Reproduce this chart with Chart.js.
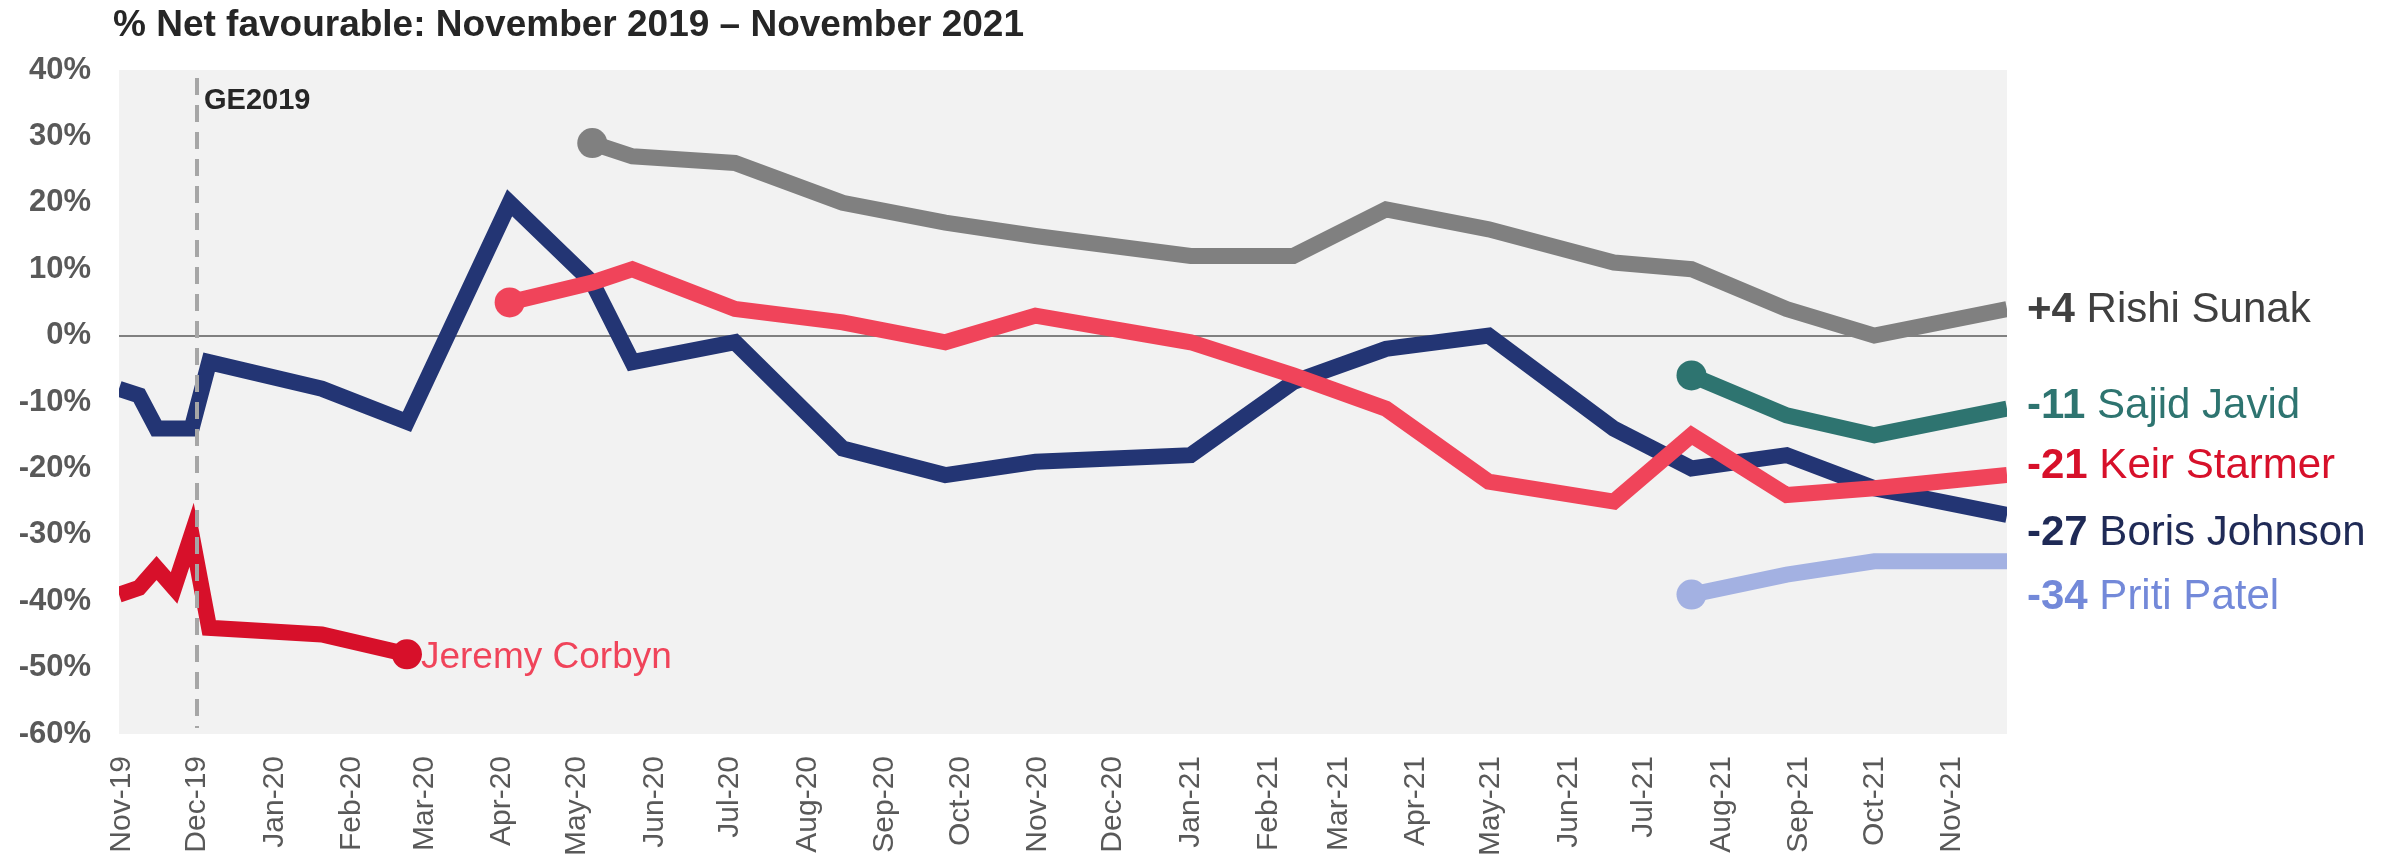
<!DOCTYPE html>
<html>
<head>
<meta charset="utf-8">
<title>% Net favourable</title>
<script src="https://cdn.jsdelivr.net/npm/chart.js@4.4.1/dist/chart.umd.min.js"></script>
<style>
  body { margin: 0; background: #fff; }
  canvas { display: block; }
</style>
</head>
<body>
<canvas id="chart" width="2397" height="859"></canvas>
<script>
const titleText = '% Net favourable: November 2019 \u2013 November 2021';

// poll dates (one per fieldwork wave)
const pollDates = [
  '2019-10-31', '2019-11-08', '2019-11-15', '2019-11-22', '2019-11-29', '2019-12-06',
  '2020-01-20', '2020-02-23', '2020-04-04', '2020-05-07', '2020-05-23', '2020-07-03',
  '2020-08-15', '2020-09-25', '2020-10-31', '2021-01-01', '2021-02-11', '2021-03-20',
  '2021-04-30', '2021-06-19', '2021-07-20', '2021-08-27', '2021-10-01', '2021-11-23'
];

const boris   = [-8, -9, -14, -14, -14, -4, -8, -13, 20, 8, -4, -1, -17, -21, -19, -18, -7, -2, 0, -14, -20, -18, -23, -27];
const corbyn  = [-39, -38, -35, -38, -30, -44, -45, -48, null, null, null, null, null, null, null, null, null, null, null, null, null, null, null, null];
const starmer = [null, null, null, null, null, null, null, null, 5, 8, 10, 4, 2, -1, 3, -1, -6, -11, -22, -25, -15, -24, -23, -21];
const sunak   = [null, null, null, null, null, null, null, null, null, 29, 27, 26, 20, 17, 15, 12, 12, 19, 16, 11, 10, 4, 0, 4];
const javid   = [null, null, null, null, null, null, null, null, null, null, null, null, null, null, null, null, null, null, null, null, -6, -12, -15, -11];
const patel   = [null, null, null, null, null, null, null, null, null, null, null, null, null, null, null, null, null, null, null, null, -39, -36, -34, -34];

const xTickLabels = ['Nov-19', 'Dec-19', 'Jan-20', 'Feb-20', 'Mar-20', 'Apr-20', 'May-20', 'Jun-20', 'Jul-20',
  'Aug-20', 'Sep-20', 'Oct-20', 'Nov-20', 'Dec-20', 'Jan-21', 'Feb-21', 'Mar-21', 'Apr-21', 'May-21',
  'Jun-21', 'Jul-21', 'Aug-21', 'Sep-21', 'Oct-21', 'Nov-21'];
const yTicks = [-60, -50, -40, -30, -20, -10, 0, 10, 20, 30, 40];

const geDate = '2019-12-01';
const geLabel = 'GE2019';

const FONT = "'Liberation Sans', Arial, Helvetica, sans-serif";
const DAY = 86400000;
const t0 = Date.parse(pollDates[0]);
const toDay = d => (Date.parse(d) - t0) / DAY;
const months = ['Jan', 'Feb', 'Mar', 'Apr', 'May', 'Jun', 'Jul', 'Aug', 'Sep', 'Oct', 'Nov', 'Dec'];
const tickDays = xTickLabels.map(l => {
  const [m, y] = l.split('-');
  return (Date.UTC(2000 + Number(y), months.indexOf(m), 1) - t0) / DAY;
});
const lastDay = toDay(pollDates[pollDates.length - 1]);

const points = vals => vals.map((v, i) => v === null ? null : { x: toDay(pollDates[i]), y: v }).filter(p => p);

// series drawn top-most first
const series = [
  { name: 'Keir Starmer',  values: starmer, line: '#F0445A', text: '#D7102A', marker: 'first', end: true,  nudge: -12 },
  { name: 'Sajid Javid',   values: javid,   line: '#2E7470', text: '#2E7470', marker: 'first', end: true,  nudge: -6 },
  { name: 'Priti Patel',   values: patel,   line: '#A3B1E2', text: '#7389D9', marker: 'first', end: true,  nudge: 33 },
  { name: 'Jeremy Corbyn', values: corbyn,  line: '#D7102A', text: '#F0445A', marker: 'last',  end: false },
  { name: 'Rishi Sunak',   values: sunak,   line: '#808080', text: '#404040', marker: 'first', end: true,  nudge: -2 },
  { name: 'Boris Johnson', values: boris,   line: '#233574', text: '#1F2A56', marker: null,    end: true,  nudge: 15 }
];

const datasets = series.map(s => {
  const data = points(s.values);
  const mi = s.marker === 'first' ? 0 : s.marker === 'last' ? data.length - 1 : -1;
  return {
    label: s.name,
    data: data,
    borderColor: s.line,
    backgroundColor: s.line,
    borderWidth: 16,
    borderJoinStyle: 'miter',
    tension: 0,
    pointRadius: c => c.dataIndex === mi ? 15 : 0,
    pointHoverRadius: c => c.dataIndex === mi ? 15 : 0,
    pointBorderWidth: 0,
    pointBackgroundColor: s.line
  };
});

const bgPlugin = {
  id: 'plotBg',
  beforeDraw(chart) {
    const { ctx, chartArea: a } = chart;
    ctx.save();
    ctx.fillStyle = '#F2F2F2';
    ctx.fillRect(a.left, a.top, a.right - a.left, a.bottom - a.top);
    ctx.restore();
  }
};

const labelPlugin = {
  id: 'labels',
  afterDraw(chart) {
    const { ctx, chartArea: a, scales } = chart;
    const xs = scales.x, ys = scales.y;
    ctx.save();

    // title
    ctx.fillStyle = '#262626';
    ctx.font = 'bold 37px ' + FONT;
    ctx.textBaseline = 'alphabetic';
    ctx.textAlign = 'left';
    ctx.fillText(titleText, 113, 36);

    // election marker
    const gx = Math.round(xs.getPixelForValue(toDay(geDate)));
    ctx.strokeStyle = '#A6A6A6';
    ctx.lineWidth = 4;
    ctx.setLineDash([17, 10]);
    ctx.beginPath();
    ctx.moveTo(gx, a.top + 8);
    ctx.lineTo(gx, a.bottom - 6);
    ctx.stroke();
    ctx.setLineDash([]);
    ctx.fillStyle = '#262626';
    ctx.font = 'bold 29px ' + FONT;
    ctx.fillText(geLabel, gx + 7, a.top + 39);

    // end labels
    const size = 42;
    series.forEach(s => {
      const data = points(s.values);
      const last = data[data.length - 1];
      if (!s.end) {
        ctx.font = '37px ' + FONT;
        ctx.fillStyle = s.text;
        ctx.fillText(s.name, xs.getPixelForValue(last.x) + 14, ys.getPixelForValue(last.y) + 0.358 * 37);
        return;
      }
      const num = (last.y > 0 ? '+' : '') + last.y;
      const y = ys.getPixelForValue(last.y) + s.nudge + 0.358 * size;
      const x = a.right + 20;
      ctx.fillStyle = s.text;
      ctx.font = 'bold ' + size + 'px ' + FONT;
      ctx.fillText(num, x, y);
      const w = ctx.measureText(num + ' ').width;
      ctx.font = size + 'px ' + FONT;
      ctx.fillText(s.name, x + w, y);
    });
    ctx.restore();
  }
};

new Chart(document.getElementById('chart'), {
  type: 'line',
  data: { datasets: datasets },
  options: {
    responsive: false,
    animation: false,
    events: [],
    layout: { padding: { top: 70, right: 390, bottom: 0, left: 0 } },
    plugins: { legend: { display: false }, tooltip: { enabled: false }, title: { display: false } },
    scales: {
      x: {
        type: 'linear',
        min: 0,
        max: lastDay,
        afterBuildTicks: s => { s.ticks = tickDays.map(v => ({ value: v })); },
        afterFit: s => { s.height = 125; },
        grid: { display: false },
        border: { display: false },
        ticks: {
          autoSkip: false,
          minRotation: 90,
          maxRotation: 90,
          padding: 14,
          color: '#595959',
          font: { family: FONT, size: 30 },
          callback: (v, i) => xTickLabels[i]
        }
      },
      y: {
        min: yTicks[0],
        max: yTicks[yTicks.length - 1],
        afterBuildTicks: s => { s.ticks = yTicks.map(v => ({ value: v })); },
        afterFit: s => { s.width = 119; },
        border: { display: false },
        grid: {
          drawTicks: false,
          lineWidth: 2,
          color: c => c.tick && c.tick.value === 0 ? '#808080' : 'rgba(0,0,0,0)'
        },
        ticks: {
          padding: 28,
          color: '#595959',
          font: { family: FONT, size: 31, weight: 'bold' },
          callback: v => v + '%'
        }
      }
    }
  },
  plugins: [bgPlugin, labelPlugin]
});
</script>
</body>
</html>
